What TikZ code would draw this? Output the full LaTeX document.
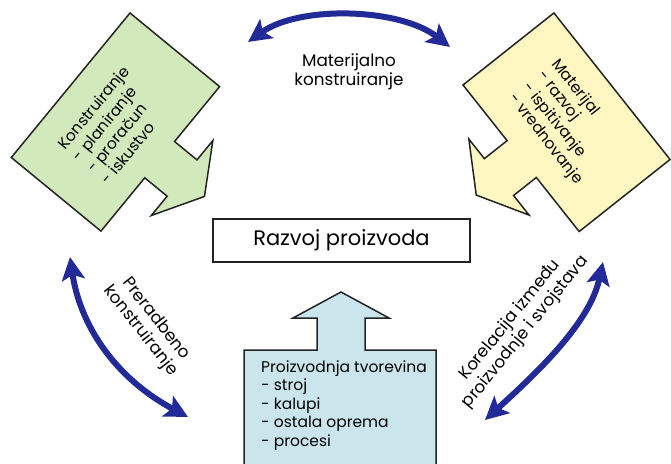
\documentclass[tikz,border=0pt]{standalone}
\usepackage{fontspec}
\setmainfont{Poppins}
\usetikzlibrary{arrows.meta}

\definecolor{listgreen}{RGB}{210,233,187}
\definecolor{listyellow}{RGB}{255,247,193}
\definecolor{listblue}{RGB}{202,230,236}
\definecolor{arcnavy}{RGB}{33,42,150}
\definecolor{edgegray}{RGB}{35,35,35}

\tikzset{
  panel/.style={draw=edgegray, line width=1.5pt, line join=miter},
  arc/.style={draw=arcnavy, line width=6pt,
    {Stealth[length=23pt,width=23pt,inset=5pt]}-{Stealth[length=23pt,width=23pt,inset=5pt]}},
  txt/.style={font=\fontsize{15.5}{18.5}\selectfont, inner sep=0pt},
  bigtxt/.style={font=\fontsize{16.8}{19.5}\selectfont, inner sep=0pt},
}

\begin{document}
\begin{tikzpicture}[x=1pt,y=1pt,yscale=-1]
    \useasboundingbox (0,0) rectangle (671,463);

    %Shape: green arrow (Konstruiranje)
    \begin{scope}[shift={(130,13)},rotate=39.4]
        \draw[panel, fill=listgreen] (0,0) -- (116,0) -- (116,71) -- (145,71) -- (145,46) -- (174,94.5) -- (145,143) -- (145,118) -- (116,118) -- (116,187) -- (0,187) -- cycle;
    \end{scope}
    %Shape: yellow arrow (Materijal)
    \begin{scope}[shift={(463,85)},rotate=141.6]
        \draw[panel, fill=listyellow] (0,0) -- (0,-71) -- (29,-71) -- (29,-46) -- (58,-94.5) -- (29,-143) -- (29,-118) -- (0,-118) -- (0,-187) -- (-116,-187) -- (-116,0) -- cycle;
    \end{scope}
    %Shape: blue arrow (Proizvodnja)
    \fill[listblue] (244,470) -- (244,350) -- (317,350) -- (317,318) -- (293,318) -- (341,292) -- (389,318) -- (365,318) -- (365,350) -- (436,350) -- (436,470) -- cycle;
    \draw[panel] (244,470) -- (244,350) -- (317,350) -- (317,318) -- (293,318) -- (341,292) -- (389,318) -- (365,318) -- (365,350) -- (436,350) -- (436,470);

    % Text Nodes
    \node[draw=edgegray, line width=1.8pt, fill=white, minimum width=257pt, minimum height=43pt, font=\fontsize{21}{25}\selectfont] (razvoj) at (341.5,240.5) {Razvoj proizvoda};
    \node[txt, rotate=50.6, align=left] (konstr) at (115,125) {Konstruiranje\\- planiranje\\- proračun\\- iskustvo};
    \node[txt, rotate=-51.6, align=left] (materijal) at (567,122) {Materijal\\- razvoj\\- ispitivanje\\- vrednovanje};
    \node[txt, anchor=north west, align=left] (proizv) at (261,360) {Proizvodnja tvorevina\\- stroj\\- kalupi\\- ostala oprema\\- procesi};
    \node[bigtxt, align=center] (matkon) at (349,72) {Materijalno\\konstruiranje};
    \node[bigtxt, rotate=-52, align=center] (prerad) at (148,325) {Preradbeno\\konstruiranje};
    \node[bigtxt, rotate=51, align=center] (korel) at (518,326) {Korelacija između\\proizvodnje i svojstava};

    % Curved arrows
    \coordinate (mk-l) at (248,42);
    \coordinate (mk-r) at (450,47);
    \coordinate (pk-a) at (70,257);
    \coordinate (pk-b) at (188,417);
    \coordinate (kp-a) at (603,262);
    \coordinate (kp-b) at (485,420);
    \draw[arc] (mk-l) .. controls (300,5) and (400,8) .. (mk-r);
    \draw[arc] (pk-a) .. controls (80,325) and (115,378) .. (pk-b);
    \draw[arc] (kp-a) .. controls (590,322) and (540,370) .. (kp-b);

\end{tikzpicture}
\end{document}
